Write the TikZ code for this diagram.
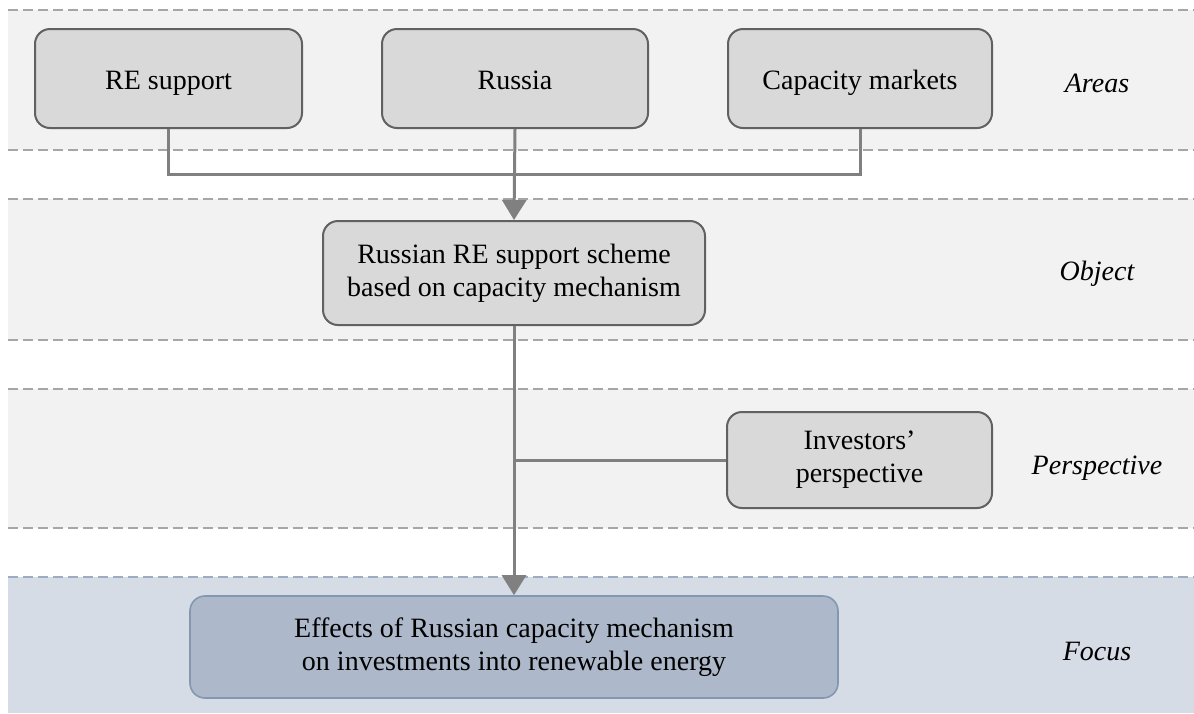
\documentclass[tikz,border=0pt]{standalone}
\usepackage{fontspec}
\setmainfont{Liberation Serif}
\usetikzlibrary{arrows.meta}
\definecolor{bandgray}{HTML}{F2F2F2}
\definecolor{bandblue}{HTML}{D6DCE5}
\definecolor{boxgray}{HTML}{D9D9D9}
\definecolor{boxblue}{HTML}{ADB9CA}
\definecolor{edgeblue}{HTML}{8497B0}
\definecolor{linegray}{HTML}{808080}
\definecolor{dashgray}{HTML}{A6A6A6}
\begin{document}
\begin{tikzpicture}[x=0.5pt,y=-0.5pt,font=\fontsize{14}{16.5}\selectfont]
    \tikzstyle{box}=[draw=black!62,fill=boxgray,line width=1pt,rounded corners=7.5pt,align=center,minimum height=49.5pt]
    \tikzstyle{oneline}=[text height=13pt,text depth=2.5pt]
    \tikzstyle{focusbox}=[box,draw=edgeblue,fill=boxblue,line width=0.8pt]
    \tikzstyle{level}=[font=\fontsize{14}{16.5}\selectfont\itshape]
    \tikzstyle{sep}=[draw=dashgray,line width=0.8pt,dash pattern=on 5pt off 2.5pt]
    \tikzstyle{fwd}=[draw=linegray,line width=1.5pt]
    \tikzstyle{tip}=[-{Triangle[width=12pt,length=10pt]}]

    \def\bx{8}
    \def\ex{1194}
    \def\lx{1097}

    \useasboundingbox (0,0) rectangle (1194,713);

    % bands
    \fill[bandgray] (\bx,10) rectangle (\ex,150);
    \fill[bandgray] (\bx,199) rectangle (\ex,340);
    \fill[bandgray] (\bx,389) rectangle (\ex,528);
    \fill[bandblue] (\bx,577) rectangle (\ex,713);
    \foreach \y in {10,150,199,340,389,528}
        \draw[sep] (\bx,\y) -- (\ex,\y);
    \draw[sep,draw=edgeblue!80] (\bx,577) -- (\ex,577);

    % boxes
    \node[box,oneline,minimum width=133.5pt] (re)  at (168.5,78.5) {RE support};
    \node[box,oneline,minimum width=133pt]   (ru)  at (515,78.5)   {Russia};
    \node[box,oneline,minimum width=132pt]   (cap) at (860,78.5)   {Capacity markets};
    \node[box,minimum width=191pt,minimum height=52pt] (sch) at (514,273) {Russian RE support scheme\\based on capacity mechanism};
    \node[box,minimum width=132.5pt,minimum height=48pt] (inv) at (859.5,460) {Investors'\\perspective};
    \node[focusbox,minimum width=324pt,minimum height=51pt] (eff) at (514,647) {Effects of Russian capacity mechanism\\on investments into renewable energy};

    % level labels
    \node[level,oneline] (la) at (\lx,82)  {Areas};
    \node[level,oneline] (lo) at (\lx,270) {Object};
    \node[level,oneline] (lp) at (\lx,464) {Perspective};
    \node[level,oneline] (lf) at (\lx,650) {Focus};

    % connectors
    \coordinate (jn) at (515,174);
    \draw[fwd] (re.south) |- (jn) -| (cap.south);
    \draw[fwd,tip] (ru.south) -- (sch.north);
    \draw[fwd,tip] (sch.south) -- (eff.north);
    \draw[fwd] (inv.west) -- (sch.south |- inv.west);
\end{tikzpicture}
\end{document}
